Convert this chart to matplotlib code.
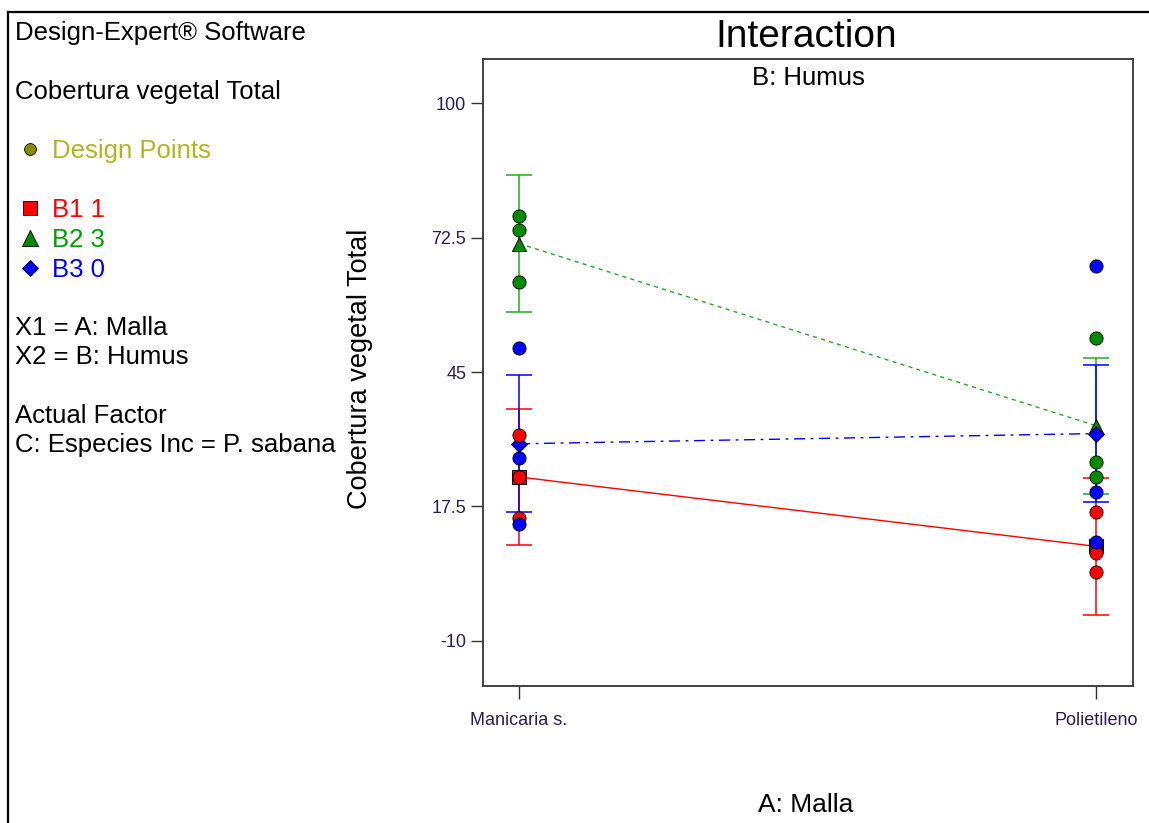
import matplotlib
matplotlib.use("Agg")
import matplotlib.pyplot as plt
from matplotlib.lines import Line2D

plt.rcParams['font.family'] = ['Liberation Sans', 'DejaVu Sans']

# ---- data -------------------------------------------------------------
categories = ["Manicaria s.", "Polietileno"]
series_labels = ["B1 1", "B2 3", "B3 0"]

# predicted means per Humus level (B1, B2, B3) at each Malla level
mean_b1 = [23.5, 9.3]
mean_b2 = [71.3, 34.0]
mean_b3 = [30.3, 32.4]

# half-width of the LSD bars
lsd_b1 = [14.0, 14.0]
lsd_b2 = [14.0, 13.9]
lsd_b3 = [14.0, 14.0]

# observed design points
pts_b1_manicaria = [32.0, 23.5, 15.1]
pts_b1_polietileno = [16.35, 8.8, 7.9, 4.0]
pts_b2_manicaria = [76.9, 74.0, 63.4]
pts_b2_polietileno = [51.95, 26.6, 23.6]
pts_b3_manicaria = [49.9, 27.3, 13.9]
pts_b3_polietileno = [66.8, 20.4, 10.1]

y_ticks = [-10, 17.5, 45, 72.5, 100]
y_tick_labels = ["-10", "17.5", "45", "72.5", "100"]

# ---- figure -----------------------------------------------------------
W, H = 1149, 823
fig = plt.figure(figsize=(W / 100, H / 100), dpi=100)
fig.patch.set_facecolor("white")


def fx(x):
    return x / W


def fy(y):
    return 1 - y / H


# outer frame (top and left edges)
fig.add_artist(Line2D([fx(8), fx(W)], [fy(12), fy(12)], color="black", lw=1.6,
                      transform=fig.transFigure))
fig.add_artist(Line2D([fx(8), fx(8)], [fy(12), fy(H)], color="black", lw=1.6,
                      transform=fig.transFigure))

RED = "#ff0000"
GREEN = "#008a00"
GREEN_LINE = "#1fae1f"
BLUE = "#0000ff"
TICK_COLOR = "#2e1a55"

# ---- info panel on the left ---------------------------------------
left_fs = 18.5
fig.text(fx(15), fy(33), "Design-Expert\u00ae Software", fontsize=left_fs, va="center", ha="left")
fig.text(fx(15), fy(92), "Cobertura vegetal Total", fontsize=left_fs, va="center", ha="left")

fig.add_artist(Line2D([fx(30)], [fy(149)], marker="o", markersize=8.5, markerfacecolor="#8a8a00",
                      markeredgecolor="black", markeredgewidth=0.6, linestyle="none",
                      transform=fig.transFigure))
fig.text(fx(52), fy(151), "Design Points", fontsize=left_fs, va="center", ha="left", color="#b3b326")

legend_markers = ["s", "^", "D"]
legend_fill = [RED, GREEN, BLUE]
legend_text = [RED, "#00a000", BLUE]
legend_sizes = [9.5, 11, 8]
for i, (lab, mk, fc, tc, ms) in enumerate(zip(series_labels, legend_markers, legend_fill,
                                             legend_text, legend_sizes)):
    yy = 208 + 30 * i
    fig.add_artist(Line2D([fx(30)], [fy(yy)], marker=mk, markersize=ms, markerfacecolor=fc,
                          markeredgecolor="black", markeredgewidth=0.6, linestyle="none",
                          transform=fig.transFigure))
    fig.text(fx(52), fy(yy + 2), lab, fontsize=left_fs, va="center", ha="left", color=tc)

fig.text(fx(15), fy(328), "X1 = A: Malla", fontsize=left_fs, va="center", ha="left")
fig.text(fx(15), fy(357), "X2 = B: Humus", fontsize=left_fs, va="center", ha="left")
fig.text(fx(15), fy(416), "Actual Factor", fontsize=left_fs, va="center", ha="left")
fig.text(fx(15), fy(445), "C: Especies Inc = P. sabana", fontsize=left_fs, va="center", ha="left")

# ---- interaction plot -------------------------------------------------
ax = fig.add_axes([fx(483), fy(686), (1133 - 483) / W, (686 - 59) / H])
ax.set_xlim(-0.0624, 1.0641)
ax.set_ylim(-19.3, 109.1)

xs = [0, 1]

series = [
    (mean_b1, lsd_b1, RED, RED, "-", "s", 9.5, [pts_b1_manicaria, pts_b1_polietileno]),
    (mean_b2, lsd_b2, GREEN, GREEN_LINE, (0, (3, 3)), "^", 10.5, [pts_b2_manicaria, pts_b2_polietileno]),
    (mean_b3, lsd_b3, BLUE, BLUE, (0, (8, 4, 2, 4)), "D", 8.0, [pts_b3_manicaria, pts_b3_polietileno]),
]

# LSD bars
for means, lsd, fill, lcol, ls, mk, ms, pts in series:
    ax.errorbar(xs, means, yerr=lsd, fmt="none", ecolor=lcol, elinewidth=1.1,
                capsize=9.7, capthick=1.1, zorder=2)

# interaction lines
for means, lsd, fill, lcol, ls, mk, ms, pts in series:
    ax.plot(xs, means, color=lcol, linestyle=ls, linewidth=1.0, zorder=3)

# predicted means
for means, lsd, fill, lcol, ls, mk, ms, pts in series:
    ax.plot(xs, means, linestyle="none", marker=mk, markersize=ms, markerfacecolor=fill,
            markeredgecolor="black", markeredgewidth=0.7, zorder=4)

# design points on top
for means, lsd, fill, lcol, ls, mk, ms, pts in series:
    for xi, vals in zip(xs, pts):
        ax.plot([xi] * len(vals), vals, linestyle="none", marker="o", markersize=9.5,
                markerfacecolor=fill, markeredgecolor="black", markeredgewidth=0.6, zorder=5)

ax.set_yticks(y_ticks)
ax.set_yticklabels(y_tick_labels)
ax.set_xticks(xs)
ax.set_xticklabels(categories)
ax.tick_params(axis="both", direction="out", length=9, width=1.0, color="#333333",
               labelsize=13, labelcolor=TICK_COLOR, pad=3)
ax.tick_params(axis="x", pad=10)
for sp in ax.spines.values():
    sp.set_linewidth(1.3)
    sp.set_color("#333333")

ax.text(0.5, 1 - (78 - 59) / (686 - 59), "B: Humus", transform=ax.transAxes,
        ha="center", va="center", fontsize=18.5)

fig.text(fx(806), fy(37), "Interaction", fontsize=28, ha="center", va="center")
fig.text(fx(806), fy(805), "A: Malla", fontsize=19, ha="center", va="center")
fig.text(fx(360), fy(369), "Cobertura vegetal Total", fontsize=19.5, ha="center",
         va="center", rotation=90)

fig.savefig("out.png", dpi=100, facecolor="white")
